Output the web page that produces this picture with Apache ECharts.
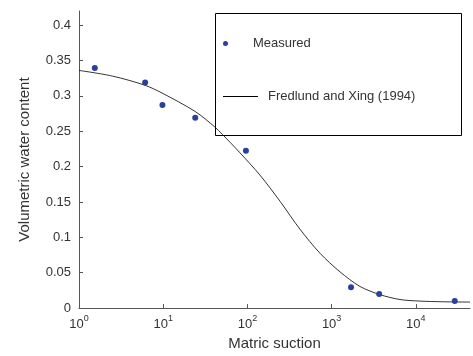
<!DOCTYPE html>
<html>
<head>
<meta charset="utf-8">
<script src="https://cdn.jsdelivr.net/npm/echarts@6/dist/echarts.min.js"></script>
<style>
html,body{margin:0;padding:0;background:#fff;}
#c{width:473px;height:356px;}
</style>
</head>
<body>
<div id="c"></div>
<script>
// Measured points (matric suction, volumetric water content)
var measX = [1.54, 6.1, 9.8, 24, 96, 1700, 3670, 29000];
var measY = [0.3395, 0.319, 0.287, 0.269, 0.2225, 0.0296, 0.020, 0.0099];

// Fredlund and Xing (1994) fitted curve
var fitX = [1, 2.5, 6.08, 9.7, 23.9, 41, 62.1, 81.7, 141, 244, 421, 728, 1259, 2173, 3757, 6490, 11220, 20000, 44000];
var fitY = [0.336, 0.328, 0.315, 0.304, 0.278, 0.256, 0.2345, 0.2195, 0.188, 0.151, 0.1115, 0.0775, 0.0512, 0.0306, 0.019, 0.0121, 0.0099, 0.0090, 0.0085];

var xTicks = [1, 10, 100, 1000, 10000];
var yTicks = [0, 0.05, 0.1, 0.15, 0.2, 0.25, 0.3, 0.35, 0.4];

var seriesNames = ['Measured', 'Fredlund and Xing (1994)'];

var axisColor = '#555';
var textColor = '#333';
var font = 'Liberation Sans';

var chart = echarts.init(document.getElementById('c'), null, {renderer: 'canvas'});

function pairs(xs, ys) {
  return xs.map(function (x, i) { return [x, ys[i]]; });
}

var option = {
  backgroundColor: '#fff',
  animation: false,
  textStyle: {fontFamily: font},
  grid: {left: 79, right: 3, top: 11, bottom: 40},
  xAxis: {
    type: 'log',
    logBase: 10,
    min: 1,
    max: 44000,
    name: 'Matric suction',
    nameLocation: 'middle',
    nameGap: 26,
    nameTextStyle: {fontSize: 15, color: textColor, fontFamily: font},
    axisLine: {show: true, lineStyle: {color: axisColor, width: 1}},
    axisTick: {show: true, inside: true, length: 4, lineStyle: {color: axisColor}, customValues: xTicks},
    splitLine: {show: false},
    minorTick: {show: false},
    axisLabel: {
      customValues: xTicks,
      margin: 6,
      formatter: function (v) {
        var e = Math.round(Math.log(v) / Math.LN10);
        return '{b|10}{s|' + e + '}';
      },
      rich: {
        b: {fontSize: 13, color: textColor, fontFamily: font, lineHeight: 17, verticalAlign: 'bottom'},
        s: {fontSize: 9, color: textColor, fontFamily: font, verticalAlign: 'top'}
      }
    }
  },
  yAxis: {
    type: 'value',
    min: 0,
    max: 0.42,
    name: 'Volumetric water content',
    nameLocation: 'middle',
    nameGap: 47,
    nameTextStyle: {fontSize: 15, color: textColor, fontFamily: font},
    axisLine: {show: true, lineStyle: {color: axisColor, width: 1}},
    axisTick: {show: true, inside: true, length: 4, lineStyle: {color: axisColor}, customValues: yTicks},
    splitLine: {show: false},
    axisLabel: {
      customValues: yTicks,
      margin: 8,
      fontSize: 13,
      color: textColor,
      fontFamily: font,
      formatter: function (v) { return String(Math.round(v * 100) / 100); }
    }
  },
  legend: [
    {
      data: [seriesNames[0]],
      left: 223,
      top: 37,
      padding: 0,
      itemWidth: 35,
      itemHeight: 5,
      selectedMode: false,
      itemStyle: {opacity: 1},
      textStyle: {fontSize: 13, color: textColor, fontFamily: font, padding: [0, 0, 0, 5]}
    },
    {
      data: [{name: seriesNames[1], icon: 'rect'}],
      left: 223,
      top: 90,
      padding: 0,
      itemWidth: 35,
      itemHeight: 1,
      selectedMode: false,
      itemStyle: {color: '#000', borderWidth: 0},
      textStyle: {fontSize: 13, color: textColor, fontFamily: font, padding: [0, 0, 0, 5]}
    }
  ],
  graphic: [
    {
      type: 'rect',
      z: 100,
      shape: {x: 215.5, y: 13.5, width: 246, height: 122},
      style: {fill: 'none', stroke: '#000', lineWidth: 1},
      silent: true
    }
  ],
  series: [
    {
      name: seriesNames[0],
      type: 'scatter',
      data: pairs(measX, measY),
      symbol: 'circle',
      symbolSize: 6,
      itemStyle: {color: '#2a3f9e', opacity: 1},
      z: 3
    },
    {
      name: seriesNames[1],
      type: 'line',
      data: pairs(fitX, fitY),
      smooth: 0.3,
      symbol: 'none',
      showSymbol: false,
      lineStyle: {color: '#000', width: 0.8},
      itemStyle: {color: '#000'},
      z: 2
    }
  ]
};

chart.setOption(option);
</script>
</body>
</html>
